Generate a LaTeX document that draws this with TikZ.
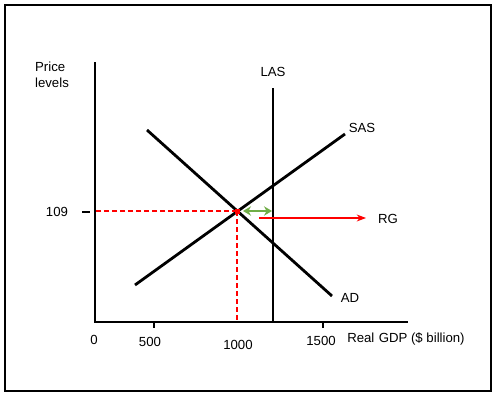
\documentclass[tikz,border=0pt]{standalone}
\usepackage{fontspec}
\setmainfont{Liberation Sans}
\usetikzlibrary{arrows.meta}

\begin{document}
\begin{tikzpicture}[x=0.75pt,y=-0.75pt]
      % Color definitions
      \definecolor{growthred}{RGB}{255, 0, 0}
      \definecolor{gapgreen}{RGB}{112, 173, 71}

      % Styles
      \tikzset{
          lbl/.style={font=\fontsize{9.9}{11.8}\selectfont, inner sep=0pt},
          curve/.style={line width=2.1pt},
          axis/.style={line width=1.6pt},
          guide/.style={growthred, line width=1.1pt, dash pattern=on 3.4pt off 2.6pt}
      }

      % Frame
      \useasboundingbox (0,0) rectangle (496,396);
      \draw[line width=2.1pt] (5,5) rectangle (491,391);

      % Axes
      \coordinate (origin) at (95,322);
      \coordinate (ytop) at (95,62);
      \coordinate (xend) at (408,322);
      \draw[axis] (ytop) -- (origin) -- (xend);

      % Ticks on the x-axis
      \foreach \x/\name in {154/t500, 323/t1500} {
          \coordinate (\name) at (\x,322);
          \draw[axis] (\name) -- ++(0,6);
      }
      % Tick on the y-axis
      \coordinate (t109) at (82,212);
      \draw[axis] (t109) -- ++(8,0);

      % Tick labels
      \node[lbl] (l0) at (94,340) {0};
      \node[lbl] (l500) at (150,342) {500};
      \node[lbl] (l1000) at (238,345) {1000};
      \node[lbl] (l1500) at (321,341) {1500};
      \node[lbl] (l109) at (57,212) {109};
      \node[lbl, anchor=west] (xlabel) at (347,339) {Real\,\,GDP (\$ billion)};
      \node[lbl, align=left] (ylabel) at (52,75) {Price\\levels};

      % Long-run aggregate supply
      \coordinate (lasTop) at (273,88);
      \coordinate (lasBot) at (273,322);
      \draw[curve] (lasTop) -- (lasBot);
      \node[lbl] (lasLabel) at (273,72) {LAS};

      % Short-run aggregate supply
      \coordinate (sasLo) at (135,285);
      \coordinate (sasHi) at (345,134);
      \draw[curve] (sasLo) -- (sasHi);
      \node[lbl] (sasLabel) at (362,128) {SAS};

      % Aggregate demand
      \coordinate (adHi) at (147,130);
      \coordinate (adLo) at (332,296);
      \draw[curve] (adHi) -- (adLo);
      \node[lbl] (adLabel) at (350,298) {AD};

      % Equilibrium and guides
      \coordinate (eq) at (237,211);
      \coordinate (eqY) at (95,211);
      \coordinate (eqX) at (237,322);
      \draw[guide] (eq) -- (eqY);
      \draw[guide] (eq) -- (eqX);
      \fill[growthred] (234.5,208.5) rectangle (239.5,213.5);

      % Output gap
      \coordinate (gapL) at (243,211);
      \coordinate (gapR) at (272,211);
      \draw[gapgreen, line width=1.7pt,
            {Stealth[length=6pt, width=7pt]}-{Stealth[length=6pt, width=7pt]}] (gapL) -- (gapR);

      % Recessionary gap arrow
      \coordinate (rgStart) at (259,218);
      \coordinate (rgEnd) at (366,218);
      \node[lbl] (rgLabel) at (388,219) {RG};
      \draw[growthred, line width=0.8pt, -{Stealth[length=7pt]}] (rgStart) -- (rgEnd);

  \end{tikzpicture}
\end{document}
